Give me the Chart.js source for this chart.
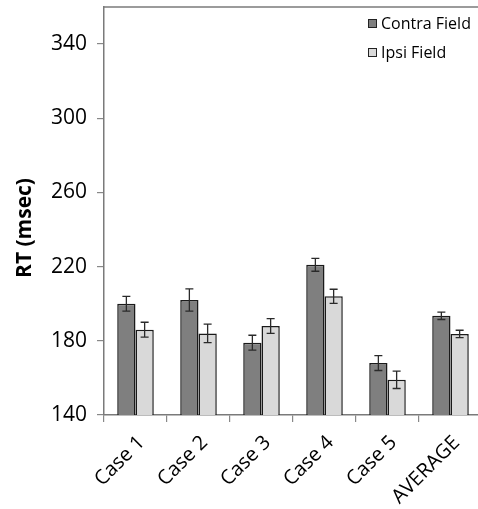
<!DOCTYPE html>
<html>
<head>
<meta charset="utf-8">
<script src="https://cdn.jsdelivr.net/npm/chart.js@4"></script>
<style>
  html, body { margin: 0; padding: 0; background: #fff; overflow: hidden; }
  #wrap { width: 478px; height: 509px; overflow: hidden; position: relative; }
  canvas { display: block; }
</style>
</head>
<body>
<div id="wrap"><canvas id="c" width="490" height="509"></canvas></div>
<script>
const categories = ['Case 1', 'Case 2', 'Case 3', 'Case 4', 'Case 5', 'AVERAGE'];
const seriesNames = ['Contra Field', 'Ipsi Field'];
const contraValues = [200, 202, 179, 221, 168, 193.5];
const contraErrors = [4, 6, 4, 3.5, 4, 2];
const ipsiValues = [186, 184, 188, 204, 159, 183.7];
const ipsiErrors = [4, 5, 4, 3.8, 4.7, 2];
const yTickValues = [140, 180, 220, 260, 300, 340];
const yAxisTitle = 'RT (msec)';

const errorSets = [contraErrors, ipsiErrors];

const errorBarPlugin = {
  id: 'errorBars',
  afterDatasetsDraw(chart) {
    const ctx = chart.ctx;
    const yScale = chart.scales.y;
    ctx.save();
    ctx.strokeStyle = '#2a2a2a';
    ctx.lineWidth = 1.3;
    chart.data.datasets.forEach((ds, di) => {
      const meta = chart.getDatasetMeta(di);
      meta.data.forEach((bar, i) => {
        const v = ds.data[i];
        const e = errorSets[di][i];
        const yTop = yScale.getPixelForValue(v + e);
        const yBot = yScale.getPixelForValue(v - e);
        const x = bar.x;
        ctx.beginPath();
        ctx.moveTo(x, yTop); ctx.lineTo(x, yBot);
        ctx.moveTo(x - 4, yTop); ctx.lineTo(x + 4, yTop);
        ctx.moveTo(x - 4, yBot); ctx.lineTo(x + 4, yBot);
        ctx.stroke();
      });
    });
    ctx.restore();
  }
};

const decorPlugin = {
  id: 'decor',
  afterDraw(chart) {
    const ctx = chart.ctx;
    const a = chart.chartArea;
    ctx.save();
    ctx.strokeStyle = '#7a7a7a';
    ctx.lineWidth = 1.5;
    ctx.beginPath();
    ctx.moveTo(a.left, a.top);
    ctx.lineTo(a.right, a.top);
    ctx.stroke();
    ctx.fillStyle = '#000';
    ctx.font = 'bold 21px "Open Sans"';
    ctx.textAlign = 'center';
    ctx.textBaseline = 'middle';
    ctx.translate(25, 228);
    ctx.rotate(-Math.PI / 2);
    ctx.fillText(yAxisTitle, 0, 0);
    ctx.restore();
    ctx.save();
    ctx.font = '16px "Open Sans"';
    ctx.textAlign = 'left';
    ctx.textBaseline = 'middle';
    chart.data.datasets.forEach((ds, i) => {
      const bx = a.right - 114;
      const by = a.top + 12 + i * 29;
      ctx.fillStyle = ds.backgroundColor;
      ctx.fillRect(bx, by, 9, 9);
      ctx.strokeStyle = '#222';
      ctx.lineWidth = 1;
      ctx.strokeRect(bx + 0.5, by + 0.5, 8, 8);
      ctx.fillStyle = '#000';
      ctx.fillText(ds.label, bx + 13, by + 5);
    });
    ctx.restore();
  }
};

new Chart(document.getElementById('c'), {
  type: 'bar',
  data: {
    labels: categories,
    datasets: [
      {
        label: seriesNames[0],
        data: contraValues,
        backgroundColor: '#7f7f7f',
        borderColor: '#1a1a1a',
        borderWidth: 1.5,
        borderSkipped: false,
        barPercentage: 1,
        categoryPercentage: 0.58
      },
      {
        label: seriesNames[1],
        data: ipsiValues,
        backgroundColor: '#d9d9d9',
        borderColor: '#1a1a1a',
        borderWidth: 1.5,
        borderSkipped: false,
        barPercentage: 1,
        categoryPercentage: 0.58
      }
    ]
  },
  options: {
    responsive: false,
    animation: false,
    devicePixelRatio: 1,
    layout: { padding: { top: 7, right: 8, left: 0, bottom: 0 } },
    plugins: {
      legend: { display: false },
      tooltip: { enabled: false }
    },
    scales: {
      x: {
        grid: { drawOnChartArea: false, drawTicks: true, tickLength: 7, color: '#888', lineWidth: 1.2 },
        border: { display: true, color: '#7a7a7a', width: 1.5 },
        ticks: {
          font: { family: '"Open Sans"', size: 20 },
          color: '#000',
          minRotation: 45,
          maxRotation: 45,
          padding: 9,
          labelOffset: 6,
          autoSkip: false
        },
        afterFit(scale) {
          scale.height = 94;
          scale.paddingLeft = 0;
          scale.paddingRight = 0;
        }
      },
      y: {
        min: 140,
        max: 360,
        grid: { drawOnChartArea: false, drawTicks: true, tickLength: 7, color: '#888', lineWidth: 1.2 },
        border: { display: true, color: '#7a7a7a', width: 1.5 },
        ticks: {
          stepSize: 40,
          font: { family: '"Open Sans"', size: 21 },
          color: '#000',
          padding: 10
        },
        afterBuildTicks(scale) {
          scale.ticks = yTickValues.map(v => ({ value: v }));
        },
        afterFit(scale) {
          scale.width = 104;
          scale.paddingTop = 0;
          scale.paddingBottom = 0;
        }
      }
    }
  },
  plugins: [errorBarPlugin, decorPlugin]
});
</script>
</body>
</html>
